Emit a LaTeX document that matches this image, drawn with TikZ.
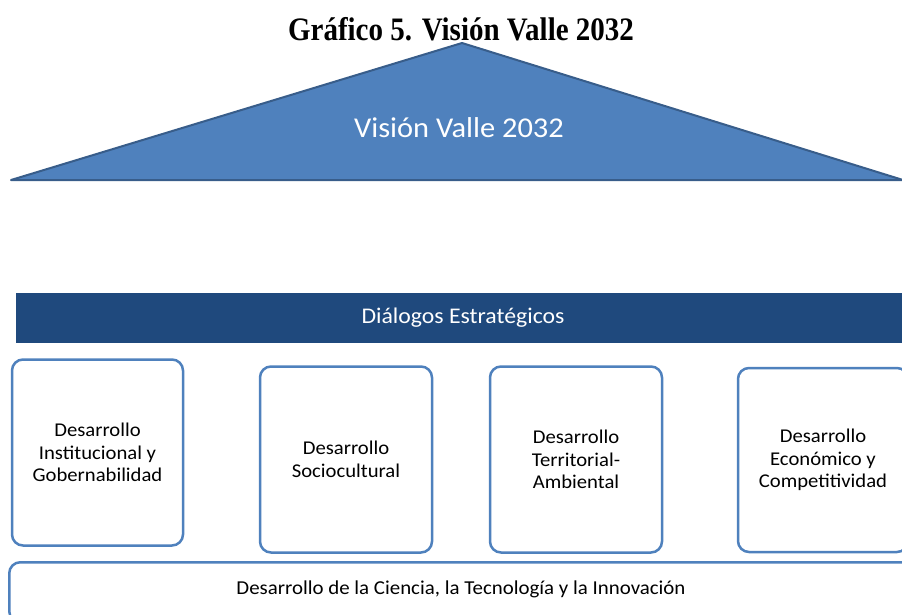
\documentclass[tikz,border=0pt]{standalone}
\usepackage{fontspec}
\newfontfamily\calib[FakeStretch=1.06]{Carlito}
\newfontfamily\timesf{Liberation Serif}
\definecolor{triFill}{HTML}{4F81BD}
\definecolor{triLine}{HTML}{385D8A}
\definecolor{barFill}{HTML}{1F497D}
\definecolor{boxLine}{HTML}{4F81BD}
\begin{document}
\begin{tikzpicture}[x=1pt,y=-1pt,
  pillar/.style={draw=boxLine, line width=2.5pt, fill=white, rounded corners=11pt,
    inner sep=0pt, align=center, font=\calib\fontsize{19.5}{22.5}\selectfont, text=black},
]
\useasboundingbox (0,0) rectangle (902,615);
% title
\node[font=\timesf\bfseries\fontsize{29}{32}\selectfont, inner sep=0pt] (title) at (461,29) {\scalebox{1.0}[1.13]{Gráfico 5. Visión Valle 2032}};
% roof
\coordinate (apex) at (462,43);
\coordinate (bl) at (11,180);
\coordinate (br) at (903,180);
\draw[fill=triFill, draw=triLine, line width=2pt, line join=round] (bl) -- (apex) -- (br) -- cycle;
\node[text=white, font=\calib\fontsize{28.7}{32}\selectfont, inner sep=0pt] (vision) at (459,128) {Visión Valle 2032};
% bar
\node[fill=barFill, minimum width=890pt, minimum height=50pt, inner sep=0pt, anchor=north west] (bar) at (16,293) {};
\node[text=white, font=\calib\fontsize{22.4}{26}\selectfont, inner sep=0pt] (bartext) at (463,318) {Diálogos Estratégicos};
% pillars
\node[pillar, minimum width=171pt, minimum height=186pt] (p1) at (97.5,452.5) {Desarrollo\\Institucional y\\Gobernabilidad};
\node[pillar, minimum width=172pt, minimum height=186pt] (p2) at (346,459.5) {Desarrollo\\Sociocultural};
\node[pillar, minimum width=172pt, minimum height=186pt] (p3) at (576,459.5) {Desarrollo\\Territorial-\\Ambiental};
\node[pillar, minimum width=170pt, minimum height=184pt] (p4) at (823,460) {Desarrollo\\Económico y\\Competitividad};
% base
\node[pillar, minimum width=910pt, minimum height=60pt, anchor=north west] (base) at (8,561) {};
\node[font=\calib\fontsize{19.7}{22.5}\selectfont, inner sep=0pt] (basetext) at (461,589) {Desarrollo de la Ciencia, la Tecnología y la Innovación};
\end{tikzpicture}
\end{document}
